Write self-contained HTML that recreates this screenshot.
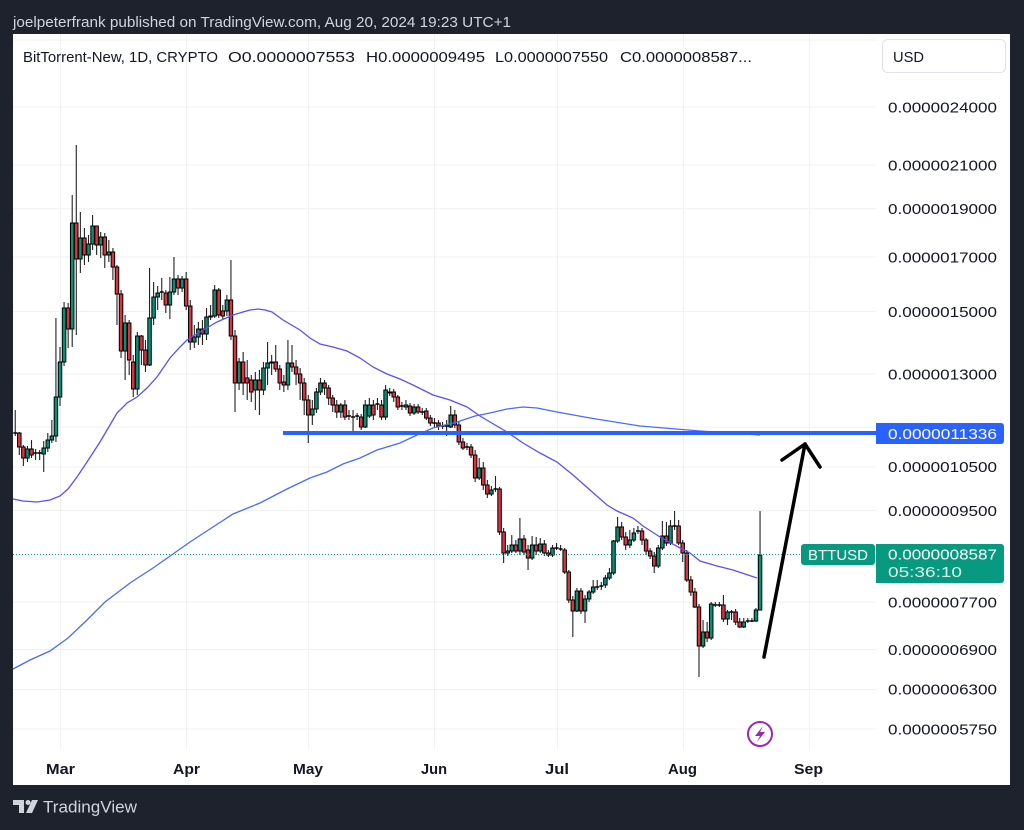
<!DOCTYPE html>
<html><head><meta charset="utf-8"><style>
html,body{margin:0;padding:0;background:#1e222d;}
svg{display:block;}
text{font-family:"Liberation Sans",sans-serif;}
</style></head><body>
<svg width="1024" height="830" viewBox="0 0 1024 830" xmlns="http://www.w3.org/2000/svg">
<defs>
<path id="gb" d=""/>
</defs>
<rect x="0" y="0" width="1024" height="830" fill="#1e222d"/>
<text x="13" y="27" font-size="15" fill="#d1d4dc" textLength="498" lengthAdjust="spacingAndGlyphs">joelpeterfrank published on TradingView.com, Aug 20, 2024 19:23 UTC+1</text>
<rect x="13" y="34" width="997" height="751" fill="#ffffff"/>
<g stroke="#eff1f5" stroke-width="1">
<path d="M60.5 34V749M186.5 34V749M308.5 34V749M434.5 34V749M557.5 34V749M683.5 34V749M809.5 34V749"/>
<path d="M13 40H876M13 107H876M13 165H876M13 208.7H876M13 257H876M13 311.6H876M13 374H876M13 427H876M13 467H876M13 510.5H876M13 559H876M13 602H876M13 649.5H876M13 689.5H876M13 729H876"/>
</g>
<!-- candles -->
<g transform="translate(60,0) scale(4.07,1)">
<path fill="none" stroke="#222" stroke-width="1.1" vector-effect="non-scaling-stroke" d="M-11 410V436M-10 432V455M-9 445V466M-8 446V462M-7 440V458M-6 449V460M-5 450V460M-4 441V472M-3 433V452M-2 420V443M-1 318V442M0 347V406M1 302V366M2 303V348M3 195V347M4 145V335M5 212V273M6 228V265M7 235V262M8 215V250M9 226V255M10 232V258M11 233V268M12 240V262M13 248V280M14 265V325M15 290V358M16 315V380M17 320V375M18 355V397M19 332V395M20 335V365M21 340V372M22 268V366M23 282V325M24 286V310M25 278V300M26 290V313M27 277V319M28 257V295M29 275V295M30 276V292M31 272V310M32 300V350M33 325V348M34 322V345M35 320V345M36 308V340M37 305V320M38 285V318M39 288V318M40 305V320M41 295V316M42 260V340M43 330V412M44 358V390M45 352V395M46 360V400M47 375V402M48 372V410M49 370V415M50 362V395M51 342V385M52 355V375M53 345V372M54 365V390M55 375V392M56 340V390M57 345V372M58 360V385M59 368V400M60 378V415M61 395V443M62 400V425M63 388V413M64 378V395M65 380V395M66 385V405M67 395V412M68 400V418M69 403V418M70 400V420M71 410V420M72 410V432M73 413V420M74 414V430M75 400V428M76 398V418M77 400V420M78 398V410M79 400V420M80 385V420M81 388V396M82 389V402M83 395V410M84 402V410M85 400V410M86 403V416M87 404V415M88 404V414M89 408V415M90 408V420M91 415V426M92 418V428M93 420V430M94 422V429M95 420V436M96 406V428M97 410V428M98 422V445M99 438V450M100 443V450M101 444V458M102 450V482M103 458V480M104 462V490M105 480V498M106 486V496M107 476V492M108 487V535M109 528V563M110 545V556M111 535V553M112 540V553M113 518V555M114 535V555M115 545V570M116 536V560M117 537V555M118 538V553M119 540V556M120 550V557M121 545V557M122 543V550M123 545V551M124 548V574M125 570V603M126 596V637M127 588V612M128 588V614M129 595V623M130 590V602M131 580V594M132 580V590M133 582V590M134 575V588M135 568V580M136 540V575M137 517V543M138 522V540M139 532V550M140 530V548M141 528V542M142 526V534M143 528V545M144 538V555M145 548V559M146 552V573M147 545V568M148 521V550M149 522V546M150 520V545M151 511V530M152 520V545M153 540V562M154 550V582M155 576V596M156 588V608M157 604V677M158 620V648M159 622V642M160 602V640M161 602V607M162 602V607M163 595V622M164 610V625M165 610V620M166 609V625M167 618V628M168 618V628M169 618V623M170 618V622M171 608V622M172 511V610"/>
<g transform="translate(-0.06,0)">
<path fill="#0a8f75" stroke="#000" stroke-width="1" vector-effect="non-scaling-stroke" transform="translate(0,0)" d="M-8.37 449h.86v9h-.86zM-4.37 448h.86v6h-.86zM-3.37 440h.86v8h-.86zM-2.37 436h.86v4h-.86zM-1.37 397h.86v39h-.86zM-.37 362h.86v35h-.86zM.63 308h.86v54h-.86zM2.63 223h.86v106h-.86zM4.63 238h.86v21h-.86zM6.63 244h.86v11h-.86zM7.63 226h.86v18h-.86zM9.63 237h.86v8h-.86zM11.63 252h.86v3h-.86zM15.63 323h.86v28h-.86zM18.63 336h.86v53h-.86zM21.63 318h.86v47h-.86zM22.63 297h.86v21h-.86zM23.63 293h.86v4h-.86zM26.63 292h.86v13h-.86zM27.63 279h.86v13h-.86zM29.63 279h.86v9h-.86zM32.63 337h.86v5h-.86zM33.63 329h.86v8h-.86zM35.63 317h.86v17h-.86zM36.63 316h.86v1h-.86zM37.63 290h.86v26h-.86zM40.63 300h.86v11h-.86zM43.63 362h.86v21h-.86zM47.63 380h.86v10h-.86zM49.63 368h.86v22h-.86zM50.63 363h.86v5h-.86zM51.63 362h.86v1h-.86zM55.63 363h.86v22h-.86zM61.63 409h.86v6h-.86zM62.63 392h.86v17h-.86zM63.63 383h.86v9h-.86zM68.63 405h.86v7h-.86zM74.63 405h.86v22h-.86zM75.63 405h.86v11h-.86zM79.63 390h.86v27h-.86zM80.63 392h.86v1h-.86zM84.63 405h.86v2h-.86zM86.63 407h.86v6h-.86zM95.63 415h.86v12h-.86zM102.63 468h.86v10h-.86zM105.63 490h.86v4h-.86zM109.63 551h.86v2h-.86zM110.63 545h.86v6h-.86zM112.63 539h.86v12h-.86zM115.63 545h.86v13h-.86zM117.63 544h.86v7h-.86zM120.63 548h.86v7h-.86zM126.63 591h.86v20h-.86zM128.63 599h.86v12h-.86zM129.63 592h.86v7h-.86zM130.63 587h.86v5h-.86zM133.63 578h.86v7h-.86zM134.63 573h.86v5h-.86zM135.63 541h.86v32h-.86zM136.63 527h.86v14h-.86zM139.63 540h.86v5h-.86zM140.63 533h.86v7h-.86zM146.63 548h.86v18h-.86zM147.63 536h.86v12h-.86zM149.63 526h.86v17h-.86zM157.63 632h.86v14h-.86zM159.63 604h.86v34h-.86zM163.63 612h.86v7h-.86zM167.63 622h.86v5h-.86zM170.63 610h.86v11h-.86zM171.63 555h.86v55h-.86z"/>
<path fill="#d9333f" stroke="#000" stroke-width="1" vector-effect="non-scaling-stroke" d="M-10.37 433h.86v14h-.86zM-9.37 447h.86v11h-.86zM-7.37 449h.86v6h-.86zM1.63 308h.86v21h-.86zM3.63 223h.86v36h-.86zM5.63 238h.86v17h-.86zM8.63 226h.86v19h-.86zM10.63 237h.86v18h-.86zM12.63 252h.86v15h-.86zM13.63 267h.86v27h-.86zM14.63 294h.86v57h-.86zM16.63 323h.86v37h-.86zM17.63 362h.86v27h-.86zM19.63 336h.86v14h-.86zM20.63 350h.86v15h-.86zM25.63 293h.86v12h-.86zM28.63 279h.86v9h-.86zM30.63 279h.86v27h-.86zM31.63 306h.86v36h-.86zM34.63 329h.86v5h-.86zM38.63 290h.86v25h-.86zM39.63 311h.86v5h-.86zM41.63 300h.86v36h-.86zM42.63 336h.86v47h-.86zM44.63 362h.86v21h-.86zM45.63 378h.86v5h-.86zM46.63 380h.86v12h-.86zM48.63 380h.86v10h-.86zM52.63 362h.86v7h-.86zM53.63 369h.86v14h-.86zM54.63 382h.86v3h-.86zM56.63 363h.86v4h-.86zM57.63 367h.86v7h-.86zM58.63 374h.86v9h-.86zM59.63 383h.86v17h-.86zM60.63 400h.86v15h-.86zM64.63 383h.86v5h-.86zM65.63 388h.86v10h-.86zM66.63 398h.86v7h-.86zM67.63 405h.86v7h-.86zM69.63 405h.86v12h-.86zM73.63 417h.86v10h-.86zM76.63 405h.86v10h-.86zM78.63 405h.86v12h-.86zM81.63 392h.86v5h-.86zM82.63 397h.86v10h-.86zM85.63 406h.86v7h-.86zM87.63 407h.86v5h-.86zM89.63 411h.86v7h-.86zM90.63 418h.86v5h-.86zM92.63 423h.86v3h-.86zM96.63 415h.86v10h-.86zM97.63 425h.86v17h-.86zM98.63 442h.86v6h-.86zM100.63 447h.86v8h-.86zM101.63 455h.86v23h-.86zM103.63 468h.86v17h-.86zM104.63 485h.86v9h-.86zM107.63 489h.86v43h-.86zM108.63 532h.86v21h-.86zM111.63 545h.86v6h-.86zM113.63 539h.86v13h-.86zM114.63 550h.86v8h-.86zM116.63 545h.86v6h-.86zM118.63 544h.86v9h-.86zM119.63 553h.86v2h-.86zM123.63 550h.86v22h-.86zM124.63 572h.86v28h-.86zM125.63 600h.86v11h-.86zM127.63 591h.86v20h-.86zM137.63 527h.86v10h-.86zM138.63 537h.86v8h-.86zM142.63 531h.86v9h-.86zM143.63 540h.86v11h-.86zM144.63 551h.86v5h-.86zM145.63 556h.86v10h-.86zM148.63 536h.86v7h-.86zM151.63 526h.86v17h-.86zM152.63 543h.86v10h-.86zM153.63 553h.86v27h-.86zM154.63 580h.86v12h-.86zM155.63 592h.86v15h-.86zM156.63 607h.86v39h-.86zM158.63 632h.86v6h-.86zM162.63 605h.86v14h-.86zM165.63 612h.86v10h-.86zM166.63 622h.86v5h-.86z"/>
</g>
<path fill="none" stroke="#000" stroke-width="1.4" vector-effect="non-scaling-stroke" d="M-11.48 433h.96M-6.48 453h.96M-5.48 453h.96M24.52 292h.96M70.52 416h.96M71.52 417h.96M72.52 416h.96M77.52 404h.96M83.52 406h.96M88.52 412h.96M91.52 423h.96M93.52 426h.96M94.52 426h.96M99.52 447h.96M106.52 489h.96M121.52 548h.96M122.52 549h.96M131.52 587h.96M132.52 586h.96M141.52 531h.96M150.52 526h.96M160.52 605h.96M161.52 605h.96M164.52 612h.96M168.52 621h.96M169.52 621h.96"/>
</g>
<!-- moving averages -->
<polyline fill="none" stroke="#5b50f7" stroke-width="1.3" points="13,499 23,501 37,502 50,500 60,496 68,489 77,477 87,462 100,442 110,425 117,413 127,403 137,397 147,388 157,377 170,358 180,347 187,340 200,332 217,322 233,315 243,312 250,310 258,309 265,310 272,312 283,320 300,330 310,338 320,344 333,347 347,351 360,358 373,367 387,374 400,379 413,385 433,395 450,400 467,407 480,416 490,422 507,432 523,443 540,453 557,462 573,475 590,490 607,505 617,511 633,518 643,526 660,537 680,548 690,553 700,561 717,566 733,570 757,578"/>
<polyline fill="none" stroke="#4a6cf7" stroke-width="1.3" points="13,669 30,660 50,651 68,638 87,620 105,602 130,583 153,568 173,554 190,542 213,527 233,514 260,503 287,489 310,478 327,472 343,464 360,458 377,450 400,443 417,435 433,428 457,422 475,416 490,413 507,409 523,407 537,408 557,412 590,418 640,426 700,431 760,435"/>
<!-- horizontal level -->
<rect x="283" y="431" width="593" height="4" fill="#2962ff"/>
<!-- current price dotted -->
<line x1="13" y1="554.5" x2="801" y2="554.5" stroke="#089981" stroke-width="1" stroke-dasharray="1 2"/>
<!-- arrow -->
<g stroke="#000" stroke-width="3.5" fill="none" stroke-linecap="round" stroke-linejoin="round">
<path d="M764 657L805 444"/>
<path d="M782 460L805 444L820 467"/>
</g>
<!-- lightning icon -->
<circle cx="760" cy="734" r="12" fill="#fff" stroke="#9c27b0" stroke-width="2"/>
<path d="M763 726L755 736H760L757 742L765 732H760Z" fill="#9c27b0"/>
<!-- price axis labels -->
<g font-size="15" fill="#131722">
<text x="888" y="112.5" textLength="109" lengthAdjust="spacingAndGlyphs">0.0000024000</text>
<text x="888" y="170.5" textLength="109" lengthAdjust="spacingAndGlyphs">0.0000021000</text>
<text x="888" y="214" textLength="109" lengthAdjust="spacingAndGlyphs">0.0000019000</text>
<text x="888" y="262.5" textLength="109" lengthAdjust="spacingAndGlyphs">0.0000017000</text>
<text x="888" y="317" textLength="109" lengthAdjust="spacingAndGlyphs">0.0000015000</text>
<text x="888" y="379.5" textLength="109" lengthAdjust="spacingAndGlyphs">0.0000013000</text>
<text x="888" y="472" textLength="109" lengthAdjust="spacingAndGlyphs">0.0000010500</text>
<text x="888" y="516" textLength="109" lengthAdjust="spacingAndGlyphs">0.0000009500</text>
<text x="888" y="607.5" textLength="109" lengthAdjust="spacingAndGlyphs">0.0000007700</text>
<text x="888" y="655" textLength="109" lengthAdjust="spacingAndGlyphs">0.0000006900</text>
<text x="888" y="694.5" textLength="109" lengthAdjust="spacingAndGlyphs">0.0000006300</text>
<text x="888" y="734.5" textLength="109" lengthAdjust="spacingAndGlyphs">0.0000005750</text>
</g>
<!-- blue level label -->
<rect x="876" y="423" width="128" height="21" rx="3" fill="#2962ff"/>
<rect x="876" y="423" width="6" height="21" fill="#2962ff"/>
<text x="888" y="439" font-size="15" fill="#ffffff" textLength="109" lengthAdjust="spacingAndGlyphs">0.0000011336</text>
<!-- current price labels -->
<rect x="801" y="544" width="74" height="21" rx="3" fill="#089981"/>
<text x="808" y="560" font-size="15" fill="#ffffff" textLength="60" lengthAdjust="spacingAndGlyphs">BTTUSD</text>
<rect x="876" y="544" width="128" height="39" rx="3" fill="#089981"/>
<rect x="876" y="544" width="6" height="39" fill="#089981"/>
<text x="888" y="559.5" font-size="15" fill="#ffffff" textLength="109" lengthAdjust="spacingAndGlyphs">0.0000008587</text>
<text x="888" y="577" font-size="15" fill="#d8f0ea" textLength="74" lengthAdjust="spacingAndGlyphs">05:36:10</text>
<!-- USD box -->
<rect x="882.5" y="39.5" width="123" height="33" rx="5" fill="#ffffff" stroke="#e0e3eb" stroke-width="1"/>
<text x="893" y="62" font-size="15" fill="#131722" textLength="31" lengthAdjust="spacingAndGlyphs">USD</text>
<!-- legend -->
<g font-size="15" fill="#131722">
<text x="23" y="62" textLength="195" lengthAdjust="spacingAndGlyphs">BitTorrent-New, 1D, CRYPTO</text>
<text x="228" y="62" textLength="127" lengthAdjust="spacingAndGlyphs">O0.0000007553</text>
<text x="366" y="62" textLength="119" lengthAdjust="spacingAndGlyphs">H0.0000009495</text>
<text x="495" y="62" textLength="113" lengthAdjust="spacingAndGlyphs">L0.0000007550</text>
<text x="620" y="62" textLength="132" lengthAdjust="spacingAndGlyphs">C0.0000008587...</text>
</g>
<!-- time axis -->
<g font-size="15" font-weight="700" fill="#131722">
<text x="46" y="774" textLength="29" lengthAdjust="spacingAndGlyphs">Mar</text>
<text x="173" y="774" textLength="27" lengthAdjust="spacingAndGlyphs">Apr</text>
<text x="293" y="774" textLength="30" lengthAdjust="spacingAndGlyphs">May</text>
<text x="421" y="774" textLength="26" lengthAdjust="spacingAndGlyphs">Jun</text>
<text x="545" y="774" textLength="24" lengthAdjust="spacingAndGlyphs">Jul</text>
<text x="668" y="774" textLength="29" lengthAdjust="spacingAndGlyphs">Aug</text>
<text x="794" y="774" textLength="29" lengthAdjust="spacingAndGlyphs">Sep</text>
</g>
<!-- TradingView logo -->
<g fill="#d1d4dc">
<path d="M13 800H24V813H19V805H13Z"/>
<circle cx="28" cy="802.5" r="2.5"/>
<path d="M32 800H38L32 813H26Z"/>
</g>
<text x="43" y="812.5" font-size="17" fill="#d1d4dc" textLength="94" lengthAdjust="spacingAndGlyphs">TradingView</text>
</svg>
</body></html>
